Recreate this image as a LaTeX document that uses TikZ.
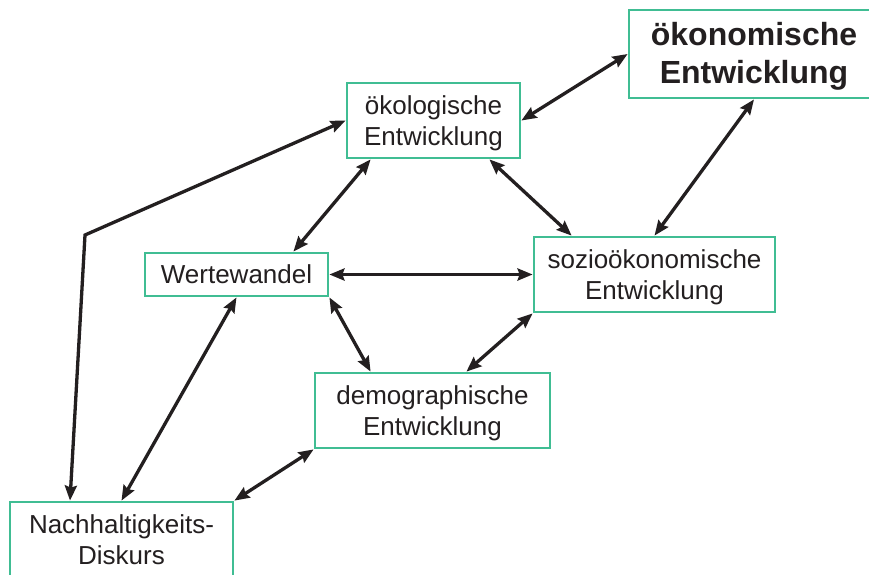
\documentclass[tikz,border=0pt]{standalone}
\usepackage{fontspec}
\setmainfont{Liberation Sans}
\usetikzlibrary{arrows.meta}
\definecolor{boxgreen}{RGB}{64,189,147}
\definecolor{ink}{RGB}{35,31,32}
\tikzset{
  topic/.style={draw=boxgreen, line width=2.8pt, fill=white, text=ink,
    align=center, inner sep=0pt, font=\fontsize{26}{31}\selectfont},
  twoline/.style={topic, text depth=0pt},
  bigtopic/.style={topic, text depth=3pt, font=\fontsize{32}{38}\selectfont\bfseries},
  link/.style={draw=ink, line width=3.3pt,
    {Stealth[length=15pt,width=12pt,inset=2pt]}-{Stealth[length=15pt,width=12pt,inset=2pt]}}
}
\begin{document}
\begin{tikzpicture}[x=1pt,y=-1pt]
\clip (0,0) rectangle (869,574);
\useasboundingbox (0,0) rectangle (869,574);
\fill[white] (0,0) rectangle (869,574);

% boxes
\node[twoline, minimum width=173pt, minimum height=75pt] (oekol) at (433.5,120.5) {ökologische\\Entwicklung};
\node[bigtopic, minimum width=250pt, minimum height=88pt] (oekon) at (754,54) {ökonomische\\Entwicklung};
\node[topic, minimum width=183pt, minimum height=43pt] (werte) at (236.5,274.5) {Wertewandel};
\node[twoline, minimum width=241pt, minimum height=75pt] (sozio) at (654.5,274.5) {sozioökonomische\\Entwicklung};
\node[twoline, minimum width=235pt, minimum height=75pt] (demo) at (432.5,410.5) {demographische\\Entwicklung};
\node[twoline, minimum width=223pt, minimum height=75pt] (nach) at (121.5,539.5) {Nachhaltigkeits-\\Diskurs};
\coordinate (bend) at (85,235);

% connections
\draw[link] (oekol.east) -- (oekon.west);
\draw[link] (oekon.south) -- (sozio.north);
\draw[link] ([xshift=-32pt]oekol.south east) -- ([xshift=39pt]sozio.north west);
\draw[link] ([xshift=25pt]oekol.south west) -- ([xshift=-36pt]werte.north east);
\draw[link] (werte.east) -- (sozio.west);
\draw[link] (werte.south east) -- ([xshift=57pt]demo.north west);
\draw[link] (sozio.south west) -- ([xshift=-85pt]demo.north east);
\draw[link] (werte.south) -- (nach.north);
\draw[link] (demo.south west) -- (nach.north east);
\draw[link, line join=miter] ([xshift=-51.5pt]nach.north) -- (bend) -- (oekol.west);
\end{tikzpicture}
\end{document}
